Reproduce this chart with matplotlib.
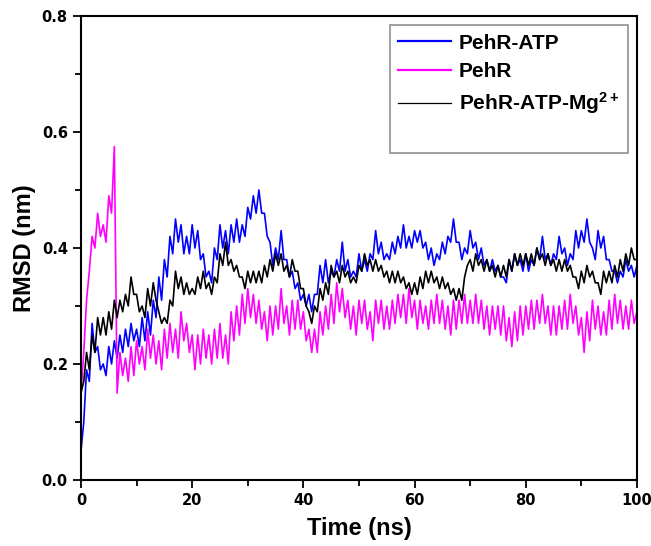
import numpy as np
import matplotlib.pyplot as plt
from matplotlib.lines import Line2D
from matplotlib.ticker import MultipleLocator

plt.rcParams['mathtext.fontset'] = 'custom'
plt.rcParams['mathtext.bf'] = 'Liberation Sans:bold'
plt.rcParams['mathtext.rm'] = 'Liberation Sans:bold'
plt.rcParams['mathtext.default'] = 'bf'

# RMSD every 0.5 ns (0 .. 100 ns)
time_ns = np.arange(201) * 0.5

rmsd_atp = [
    0.05, 0.10, 0.19, 0.17, 0.27, 0.22, 0.23, 0.19, 0.20, 0.18,
    0.23, 0.20, 0.24, 0.21, 0.25, 0.22, 0.26, 0.23, 0.27, 0.24,
    0.26, 0.23, 0.28, 0.24, 0.29, 0.25, 0.31, 0.28, 0.35, 0.31,
    0.38, 0.35, 0.42, 0.39, 0.45, 0.41, 0.44, 0.39, 0.42, 0.39,
    0.44, 0.40, 0.43, 0.38, 0.39, 0.35, 0.36, 0.34, 0.40, 0.38,
    0.44, 0.40, 0.43, 0.39, 0.44, 0.41, 0.45, 0.41, 0.44, 0.42,
    0.47, 0.45, 0.49, 0.46, 0.50, 0.46, 0.46, 0.42, 0.41, 0.37,
    0.40, 0.38, 0.43, 0.38, 0.38, 0.35, 0.36, 0.33, 0.34, 0.31,
    0.32, 0.30, 0.32, 0.29, 0.32, 0.32, 0.37, 0.34, 0.38, 0.34,
    0.36, 0.35, 0.38, 0.36, 0.41, 0.36, 0.38, 0.35, 0.36, 0.35,
    0.39, 0.36, 0.38, 0.36, 0.39, 0.38, 0.43, 0.39, 0.41, 0.38,
    0.39, 0.38, 0.41, 0.39, 0.42, 0.40, 0.44, 0.40, 0.42, 0.40,
    0.43, 0.41, 0.43, 0.40, 0.41, 0.38, 0.40, 0.37, 0.39, 0.38,
    0.41, 0.39, 0.42, 0.41, 0.45, 0.41, 0.41, 0.38, 0.40, 0.39,
    0.43, 0.40, 0.41, 0.38, 0.40, 0.37, 0.38, 0.36, 0.38, 0.36,
    0.37, 0.35, 0.35, 0.34, 0.38, 0.36, 0.39, 0.37, 0.38, 0.36,
    0.39, 0.36, 0.38, 0.37, 0.40, 0.38, 0.42, 0.38, 0.39, 0.37,
    0.39, 0.38, 0.42, 0.39, 0.40, 0.37, 0.39, 0.38, 0.43, 0.40,
    0.43, 0.41, 0.45, 0.41, 0.40, 0.38, 0.43, 0.40, 0.42, 0.38,
    0.38, 0.36, 0.36, 0.34, 0.36, 0.35, 0.38, 0.36, 0.37, 0.35,
    0.37,
]

rmsd_apo = [
    0.15, 0.22, 0.31, 0.36, 0.42, 0.40, 0.46, 0.42, 0.44, 0.41,
    0.49, 0.46, 0.575, 0.15, 0.22, 0.18, 0.21, 0.17, 0.23, 0.18,
    0.24, 0.20, 0.23, 0.19, 0.26, 0.21, 0.25, 0.20, 0.24, 0.19,
    0.26, 0.21, 0.27, 0.22, 0.26, 0.21, 0.29, 0.24, 0.27, 0.22,
    0.25, 0.19, 0.25, 0.20, 0.26, 0.21, 0.25, 0.20, 0.26, 0.21,
    0.27, 0.21, 0.25, 0.20, 0.29, 0.24, 0.30, 0.25, 0.32, 0.27,
    0.33, 0.28, 0.32, 0.27, 0.31, 0.26, 0.29, 0.24, 0.30, 0.25,
    0.30, 0.26, 0.33, 0.27, 0.30, 0.25, 0.31, 0.26, 0.31, 0.26,
    0.29, 0.24, 0.26, 0.22, 0.26, 0.22, 0.29, 0.25, 0.30, 0.26,
    0.32, 0.27, 0.34, 0.29, 0.33, 0.28, 0.31, 0.26, 0.30, 0.25,
    0.31, 0.27, 0.31, 0.26, 0.29, 0.24, 0.31, 0.27, 0.31, 0.26,
    0.30, 0.26, 0.31, 0.27, 0.32, 0.28, 0.32, 0.27, 0.33, 0.28,
    0.31, 0.26, 0.31, 0.27, 0.30, 0.26, 0.31, 0.27, 0.32, 0.27,
    0.31, 0.26, 0.30, 0.25, 0.31, 0.26, 0.31, 0.27, 0.32, 0.27,
    0.31, 0.27, 0.32, 0.27, 0.31, 0.26, 0.30, 0.25, 0.30, 0.26,
    0.30, 0.25, 0.30, 0.24, 0.28, 0.23, 0.29, 0.24, 0.30, 0.25,
    0.30, 0.26, 0.31, 0.26, 0.31, 0.27, 0.32, 0.27, 0.30, 0.25,
    0.30, 0.25, 0.30, 0.26, 0.31, 0.26, 0.32, 0.27, 0.30, 0.25,
    0.28, 0.22, 0.29, 0.24, 0.31, 0.26, 0.30, 0.25, 0.29, 0.25,
    0.31, 0.26, 0.32, 0.27, 0.31, 0.26, 0.30, 0.26, 0.31, 0.27,
    0.29,
]

rmsd_atp_mg = [
    0.15, 0.17, 0.22, 0.19, 0.25, 0.22, 0.28, 0.25, 0.28, 0.25,
    0.29, 0.26, 0.31, 0.28, 0.31, 0.29, 0.32, 0.30, 0.35, 0.32,
    0.32, 0.29, 0.30, 0.28, 0.33, 0.30, 0.34, 0.31, 0.29, 0.27,
    0.28, 0.27, 0.31, 0.30, 0.36, 0.33, 0.35, 0.32, 0.34, 0.32,
    0.33, 0.32, 0.35, 0.33, 0.36, 0.33, 0.34, 0.32, 0.35, 0.34,
    0.39, 0.37, 0.41, 0.37, 0.38, 0.36, 0.37, 0.35, 0.35, 0.33,
    0.36, 0.34, 0.36, 0.34, 0.36, 0.34, 0.37, 0.35, 0.38, 0.36,
    0.39, 0.37, 0.39, 0.36, 0.37, 0.35, 0.38, 0.36, 0.36, 0.33,
    0.33, 0.30, 0.29, 0.27, 0.30, 0.29, 0.33, 0.31, 0.34, 0.32,
    0.37, 0.35, 0.36, 0.34, 0.37, 0.35, 0.36, 0.34, 0.35, 0.34,
    0.37, 0.36, 0.39, 0.37, 0.38, 0.36, 0.38, 0.36, 0.37, 0.35,
    0.36, 0.34, 0.36, 0.34, 0.36, 0.34, 0.35, 0.33, 0.34, 0.32,
    0.34, 0.32, 0.35, 0.33, 0.36, 0.34, 0.36, 0.34, 0.35, 0.33,
    0.35, 0.33, 0.34, 0.32, 0.33, 0.31, 0.33, 0.31, 0.35, 0.37,
    0.38, 0.36, 0.39, 0.37, 0.38, 0.36, 0.38, 0.36, 0.37, 0.35,
    0.37, 0.35, 0.37, 0.35, 0.38, 0.36, 0.39, 0.37, 0.39, 0.37,
    0.39, 0.37, 0.39, 0.37, 0.40, 0.38, 0.39, 0.37, 0.39, 0.37,
    0.38, 0.36, 0.38, 0.36, 0.38, 0.36, 0.37, 0.35, 0.35, 0.33,
    0.36, 0.34, 0.37, 0.35, 0.36, 0.34, 0.34, 0.32, 0.36, 0.34,
    0.36, 0.34, 0.37, 0.35, 0.38, 0.36, 0.39, 0.37, 0.40, 0.38,
    0.38,
]

labels = ["PehR-ATP", "PehR", "PehR-ATP-Mg$^{2+}$"]
colors = ["#0000ff", "#ff00ff", "#000000"]

fig = plt.figure(figsize=(6.51, 5.46), dpi=100)
ax = fig.add_axes([0.1244, 0.1209, 0.854, 0.8498])

for series, c in zip([rmsd_atp, rmsd_apo, rmsd_atp_mg], colors):
    ax.plot(time_ns, series, color=c, lw=1.2)

ax.set_xlim(0, 100)
ax.set_ylim(0, 0.8)
ax.xaxis.set_major_locator(MultipleLocator(20))
ax.xaxis.set_minor_locator(MultipleLocator(10))
ax.yaxis.set_major_locator(MultipleLocator(0.2))
ax.yaxis.set_minor_locator(MultipleLocator(0.1))
ax.yaxis.set_major_formatter(plt.FuncFormatter(lambda v, p: f"{v:.1f}"))
ax.tick_params(which="major", direction="out", length=6, width=1.3, labelsize=10.5)
ax.tick_params(which="minor", direction="out", length=4, width=1.3)
for lab in ax.get_xticklabels() + ax.get_yticklabels():
    lab.set_fontweight("bold")
for sp in ax.spines.values():
    sp.set_linewidth(1.5)

ax.set_xlabel("Time (ns)", fontsize=17, fontweight="bold", family="Liberation Sans", labelpad=6)
ax.set_ylabel("RMSD (nm)", fontsize=17, fontweight="bold", family="Liberation Sans", labelpad=4)

handles = [
    Line2D([], [], color="#0000ff", lw=1.6),
    Line2D([], [], color="#ff00ff", lw=1.6),
    Line2D([], [], color="#000000", lw=0.9),
    Line2D([], [], color="none"),
]
leg = ax.legend(handles, labels + [" "], loc="upper right",
                prop={"family": "Liberation Sans", "weight": "bold", "size": 15},
                handlelength=2.5, handletextpad=0.4, borderpad=0.4,
                borderaxespad=0.45, labelspacing=0.45, fancybox=False,
                framealpha=1, edgecolor="#999999")
leg.get_frame().set_linewidth(1.3)

fig.savefig("out.png", dpi=100)
